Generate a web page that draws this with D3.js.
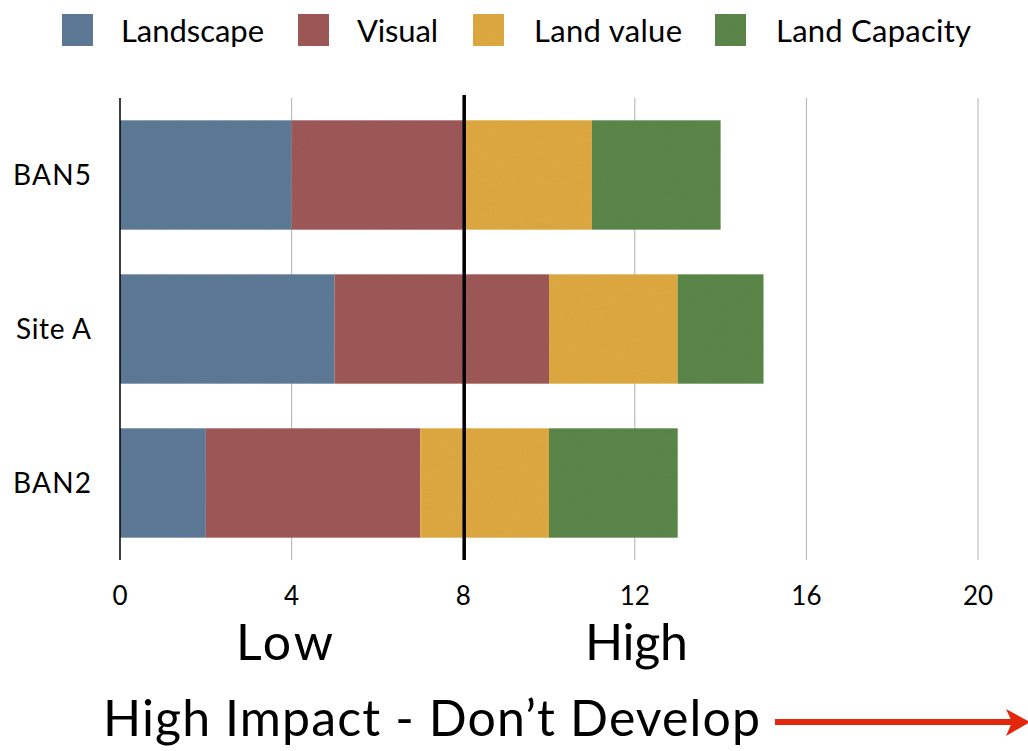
<!DOCTYPE html>
<html><head><meta charset="utf-8">
<script src="https://cdn.jsdelivr.net/npm/d3@7"></script>
<style>body{margin:0;background:#fff}svg{display:block}</style>
</head><body>
<script>
const categories = ["BAN5", "Site A", "BAN2"];
const seriesNames = ["Landscape", "Visual", "Land value", "Land Capacity"];
const landscape = [4, 5, 2];
const visual = [4, 5, 5];
const landValue = [3, 3, 3];
const landCapacity = [3, 2, 3];
const colors = ["#5e7b9a", "#a05a5a", "#e1ab42", "#5d894b"];
const xTicks = [0, 4, 8, 12, 16, 20];
const threshold = 8;

const W = 1028, H = 751;
const font = "Lato, 'Open Sans', sans-serif";
const svg = d3.select("body").append("svg").attr("width", W).attr("height", H);

const defs = svg.append("defs");
const f = defs.append("filter").attr("id","noise").attr("x","0").attr("y","0").attr("width","100%").attr("height","100%");
f.append("feTurbulence").attr("type","fractalNoise").attr("baseFrequency","0.9").attr("numOctaves","2").attr("seed","3").attr("result","n");
f.append("feColorMatrix").attr("in","n").attr("type","matrix")
 .attr("values","0 0 0 0 0  0 0 0 0 0  0 0 0 0 0  0 0 0 0.12 0").attr("result","na");
f.append("feComposite").attr("in","na").attr("in2","SourceGraphic").attr("operator","in").attr("result","nm");
f.append("feMerge").call(m=>{m.append("feMergeNode").attr("in","SourceGraphic");m.append("feMergeNode").attr("in","nm");});

const x = d3.scaleLinear().domain([0, 20]).range([120, 978]);
const y = d3.scaleBand().domain(categories).range([98, 560]).paddingInner(0.29).paddingOuter(0.145);

const data = categories.map((c, i) => ({cat: c, Landscape: landscape[i], Visual: visual[i], "Land value": landValue[i], "Land Capacity": landCapacity[i]}));
const stacked = d3.stack().keys(seriesNames)(data);

// gridlines
svg.append("g").selectAll("line").data(xTicks.filter(t => t > 0)).join("line")
  .attr("x1", d => x(d)).attr("x2", d => x(d)).attr("y1", 98).attr("y2", 560)
  .attr("stroke", "#b0b0b0").attr("stroke-width", 1);

// bars
const g = svg.append("g");
stacked.forEach((s, si) => {
  g.append("g").attr("fill", colors[si]).attr("filter","url(#noise)")
   .selectAll("rect").data(s).join("rect")
   .attr("x", d => x(d[0])).attr("width", d => x(d[1]) - x(d[0]))
   .attr("y", d => y(d.data.cat)).attr("height", y.bandwidth());
});

// left axis line
svg.append("line").attr("x1", x(0)).attr("x2", x(0)).attr("y1", 98).attr("y2", 560)
  .attr("stroke", "#000").attr("stroke-width", 1.5);
// threshold line
svg.append("line").attr("x1", x(threshold)+1).attr("x2", x(threshold)+1).attr("y1", 95).attr("y2", 560)
  .attr("stroke", "#000").attr("stroke-width", 3.5);

// x tick labels
svg.append("g").selectAll("text").data(xTicks).join("text")
  .attr("x", d => x(d)).attr("y", 605).attr("text-anchor", "middle")
  .attr("font-family", font).attr("font-size", 26).attr("fill", "#000").text(d => d);

// category labels
const catLen = [78, 75, 78];
svg.append("g").selectAll("text").data(categories).join("text")
  .attr("x", (d, i) => 91 - catLen[i]).attr("y", d => y(d) + y.bandwidth()/2 + 10)
  .attr("textLength", (d, i) => catLen[i]).attr("lengthAdjust", "spacing")
  .attr("font-family", font).attr("font-size", 28).attr("fill", "#000").text(d => d);

// legend
const legX = [62, 298, 473, 715];
const legTextX = [121, 357, 534, 776];
const legLen = [143, 81, 148, 195];
const leg = svg.append("g");
seriesNames.forEach((n, i) => {
  leg.append("rect").attr("x", legX[i]).attr("y", 14).attr("width", 31).attr("height", 32)
    .attr("fill", colors[i]).attr("filter","url(#noise)");
  leg.append("text").attr("x", legTextX[i]).attr("y", 42)
    .attr("textLength", legLen[i]).attr("lengthAdjust", "spacing")
    .attr("font-family", font).attr("font-size", 31).attr("fill", "#000").text(n);
});

// bottom labels
svg.append("text").attr("x", 236).attr("y", 660).attr("textLength", 97).attr("lengthAdjust","spacing")
  .attr("font-family", font).attr("font-size", 50).text("Low");
svg.append("text").attr("x", 585).attr("y", 660).attr("textLength", 103).attr("lengthAdjust","spacing")
  .attr("font-family", font).attr("font-size", 50).text("High");
svg.append("text").attr("x", 103).attr("y", 736).attr("textLength", 657).attr("lengthAdjust","spacing")
  .attr("font-family", font).attr("font-size", 50).text("High Impact - Don\u2019t Develop");

// red arrow
svg.append("line").attr("x1", 775).attr("x2", 1012).attr("y1", 722).attr("y2", 722)
  .attr("stroke", "#e2270c").attr("stroke-width", 6);
svg.append("path").attr("d", "M1006,709 L1030,722 L1006,736 L1012,722 Z").attr("fill", "#e2270c");
</script>
</body></html>
